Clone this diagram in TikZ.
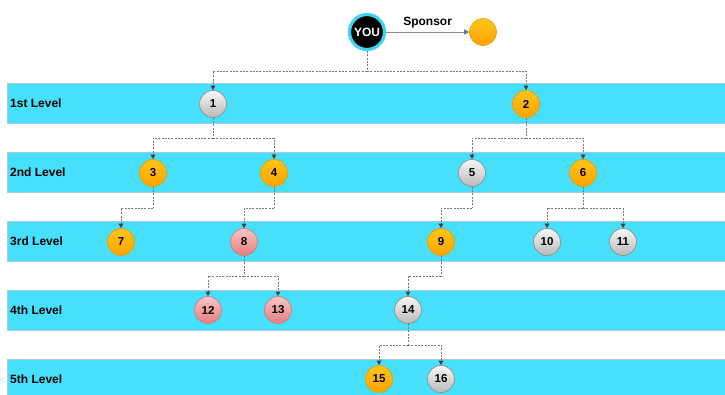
\documentclass[tikz,border=0pt]{standalone}
\usepackage{fontspec}
\setmainfont{Liberation Sans}
\usetikzlibrary{arrows.meta,calc}
\definecolor{bandc}{HTML}{46E0FC}
\definecolor{bandb}{HTML}{A9C9DC}
\definecolor{orT}{HTML}{FFC61A}
\definecolor{orB}{HTML}{FFA200}
\definecolor{orD}{HTML}{E8A000}
\definecolor{grT}{HTML}{F7F7F7}
\definecolor{grB}{HTML}{B8B8B8}
\definecolor{grD}{HTML}{8F8F8F}
\definecolor{rdT}{HTML}{FAC4C4}
\definecolor{rdB}{HTML}{E47E7E}
\definecolor{rdD}{HTML}{C98080}
\definecolor{conc}{HTML}{7A7A7A}
\definecolor{youb}{HTML}{3FD4F4}
\tikzset{
  x=1pt,y=-1pt,
  band/.style={fill=bandc,draw=bandb,line width=0.8pt},
  lvl/.style={anchor=west,font=\fontsize{12}{14}\selectfont\bfseries,inner sep=0pt},
  ball/.style={circle,minimum size=27pt,inner sep=0pt,line width=0.7pt,font=\fontsize{11.5}{13}\selectfont\bfseries},
  orn/.style={ball,top color=orT,bottom color=orB,draw=orD},
  grn/.style={ball,top color=grT,bottom color=grB,draw=grD},
  rdn/.style={ball,top color=rdT,bottom color=rdB,draw=rdD},
  conn/.style={draw=conc,line width=0.8pt,dash pattern=on 2pt off 1.3pt,-{Triangle[length=4.5pt,width=4.5pt,color=black!75,fill=black!75]}},
  connl/.style={draw=conc,line width=0.8pt,dash pattern=on 2pt off 1.3pt},
}
\begin{document}
\begin{tikzpicture}
\useasboundingbox (0,0) rectangle (725,394);
\begin{scope}
\clip (0,0) rectangle (725,394);
% bands
\foreach \t in {83,152,221,290,359}{
  \path[band] (7,\t) rectangle (730,\t+40);
}
\end{scope}
\node[lvl] (l1) at (10,103) {1st Level};
\node[lvl] (l2) at (10,172) {2nd Level};
\node[lvl] (l3) at (10,241) {3rd Level};
\node[lvl] (l4) at (10,310) {4th Level};
\node[lvl] (l5) at (10,379) {5th Level};

% top
\node[circle,minimum size=35pt,inner sep=0pt,fill=black,draw=youb,line width=3.2pt,text=white,font=\fontsize{12}{14}\selectfont\bfseries] (you) at (367,32) {YOU};
\node[circle,minimum size=27pt,inner sep=0pt,top color=orT,bottom color=orB,draw=orD,line width=0.6pt] (sp) at (483,32) {};
\draw[draw=black!45,line width=0.9pt,-{Triangle[length=5pt,width=5pt,color=black!55,fill=black!55]}] (you) -- node[above=0.5pt,font=\fontsize{12}{14}\selectfont\bfseries,text=black] (splab) {Sponsor} (sp);

% nodes
\node[grn] (n1) at (213,104) {1};
\node[orn] (n2) at (526,104) {2};
\node[orn] (n3) at (153,173) {3};
\node[orn] (n4) at (274,173) {4};
\node[grn] (n5) at (472,173) {5};
\node[orn] (n6) at (583,173) {6};
\node[orn] (n7) at (121,242) {7};
\node[rdn] (n8) at (244,242) {8};
\node[orn] (n9) at (441,242) {9};
\node[grn] (n10) at (547,242) {10};
\node[grn] (n11) at (623,242) {11};
\node[rdn] (n12) at (208,310) {12};
\node[rdn] (n13) at (278,310) {13};
\node[grn] (n14) at (408,310) {14};
\node[orn] (n15) at (379,379) {15};
\node[grn] (n16) at (441,379) {16};

% junctions
\coordinate (j0) at (367,71);
\coordinate (j1) at (213,138);
\coordinate (j2) at (526,138);
\coordinate (j3) at (153,208);
\coordinate (j4) at (274,208);
\coordinate (j5) at (472,208);
\coordinate (j6) at (583,208);
\coordinate (j7) at (244,276);
\coordinate (j8) at (441,276);
\coordinate (j9) at (408,345);

\draw[connl] (you.south) -- (j0);
\draw[conn] (j0) -| (n1.north);
\draw[conn] (j0) -| (n2.north);
\draw[connl] (n1.south) -- (j1);
\draw[conn] (j1) -| (n3.north);
\draw[conn] (j1) -| (n4.north);
\draw[connl] (n2.south) -- (j2);
\draw[conn] (j2) -| (n5.north);
\draw[conn] (j2) -| (n6.north);
\draw[connl] (n3.south) -- (j3);
\draw[conn] (j3) -| (n7.north);
\draw[connl] (n4.south) -- (j4);
\draw[conn] (j4) -| (n8.north);
\draw[connl] (n5.south) -- (j5);
\draw[conn] (j5) -| (n9.north);
\draw[connl] (n6.south) -- (j6);
\draw[conn] (j6) -| (n10.north);
\draw[conn] (j6) -| (n11.north);
\draw[connl] (n8.south) -- (j7);
\draw[conn] (j7) -| (n12.north);
\draw[conn] (j7) -| (n13.north);
\draw[connl] (n9.south) -- (j8);
\draw[conn] (j8) -| (n14.north);
\draw[connl] (n14.south) -- (j9);
\draw[conn] (j9) -| (n15.north);
\draw[conn] (j9) -| (n16.north);
\end{tikzpicture}
\end{document}
